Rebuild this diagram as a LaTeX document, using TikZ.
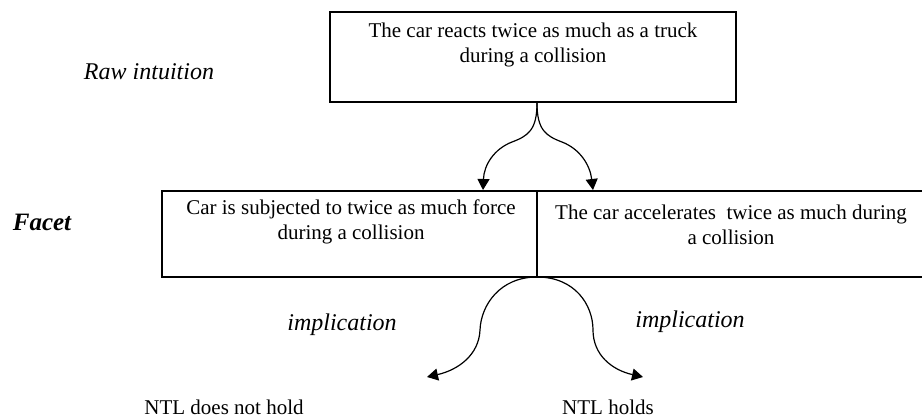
\documentclass[tikz,border=0pt]{standalone}
\usepackage{fontspec}
\setmainfont{Liberation Serif}
\usetikzlibrary{arrows.meta}
\tikzset{
  box/.style={draw, line width=1.2pt, inner sep=0pt},
  txt/.style={align=center, inner sep=0pt, font=\fontsize{21}{25}\selectfont},
  lbl/.style={inner sep=0pt, font=\fontsize{24}{28}\selectfont\itshape},
  res/.style={inner sep=0pt, font=\fontsize{21}{24}\selectfont},
  conn/.style={line width=1.2pt, -{Triangle[width=12pt,length=11pt]}}
}
\begin{document}
\begin{tikzpicture}[x=1pt,y=-1pt]
\useasboundingbox (0,0) rectangle (922,419);
% boxes
\node[box, minimum width=406pt, minimum height=90pt] (top) at (533,57) {};
\node[box, minimum width=375pt, minimum height=86pt] (lbox) at (349.5,234) {};
\node[box, minimum width=390pt, minimum height=86pt] (rbox) at (732,234) {};
% texts
\node[txt] (ttop) at (533,44.5) {The car reacts twice as much as a truck\\during a collision};
\node[txt] (tl) at (351,221.5) {Car is subjected to twice as much force\\during a collision};
\node[txt] (tr) at (731,224.5) {The car accelerates\ \ twice as much during\\a collision};
% side labels
\node[lbl] (raw) at (149,72) {Raw intuition};
\node[lbl, font=\fontsize{25}{29}\selectfont\bfseries\itshape] (facet) at (42,222) {Facet};
\node[lbl] (impl1) at (342,325) {implication};
\node[lbl] (impl2) at (690,322) {implication};
\node[res] (nh) at (224,407) {NTL does not hold};
\node[res] (h) at (608,407) {NTL holds};
% connector anchors
\coordinate (src1) at (537,103);
\coordinate (src2) at (537,277);
\coordinate (t1) at (483,190);
\coordinate (t2) at (593,190);
\coordinate (b1) at (427,377);
\coordinate (b2) at (643,377);
% connectors
\draw[conn] (src1) .. controls (537,130) and (528,136) .. (512,142)
  .. controls (494,149) and (484,165) .. (t1);
\draw[conn] (src1) .. controls (537,130) and (546,136) .. (562,142)
  .. controls (580,149) and (590,165) .. (t2);
\draw[conn] (src2) .. controls (500,277) and (481,305) .. (480,330)
  .. controls (479,355) and (458,370) .. (b1);
\draw[conn] (src2) .. controls (575,277) and (593,305) .. (593,330)
  .. controls (593,355) and (612,370) .. (b2);
\end{tikzpicture}
\end{document}
